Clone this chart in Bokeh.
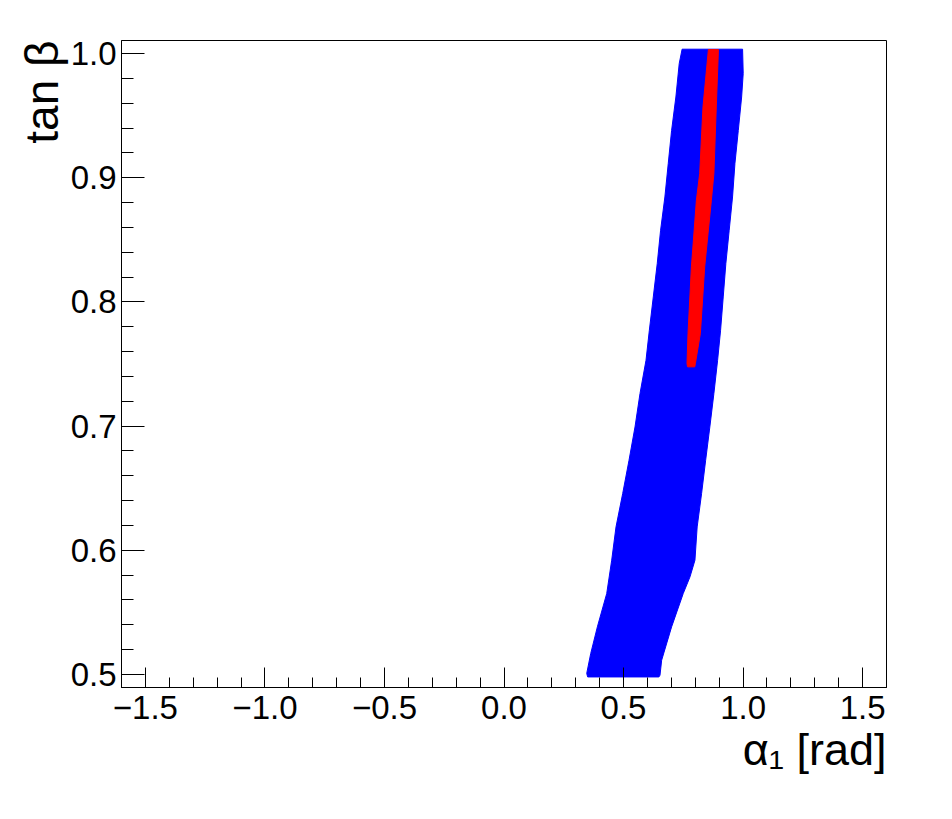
from bokeh.plotting import figure
from bokeh.models import SingleIntervalTicker, CustomJSTickFormatter, Title, Range1d
from bokeh.embed import file_html
from bokeh.resources import INLINE

# ---- data ----
# blue region: boundary of allowed scan points
blue_y_left = [1.0035, 0.992, 0.965, 0.938, 0.9114, 0.8845, 0.8577, 0.8309, 0.804, 0.7772,
               0.753, 0.7263, 0.6993, 0.6725, 0.6457, 0.6188, 0.592, 0.5652, 0.5383, 0.5169,
               0.5008, 0.498]
blue_x_left = [0.745, 0.733, 0.719, 0.701, 0.687, 0.673, 0.655, 0.641, 0.6245, 0.608,
               0.594, 0.569, 0.548, 0.523, 0.4965, 0.4685, 0.4505, 0.4297, 0.3905, 0.3628,
               0.346, 0.35]
blue_y_right = [1.0035, 0.984, 0.965, 0.938, 0.9114, 0.8845, 0.8577, 0.8309, 0.804, 0.7772,
                0.753, 0.7263, 0.6993, 0.6725, 0.6457, 0.6188, 0.592, 0.5786, 0.5652, 0.5383,
                0.5115, 0.4994, 0.498]
blue_x_right = [0.998, 1.0006, 0.994, 0.98, 0.966, 0.956, 0.942, 0.928, 0.917, 0.906,
                0.8935, 0.878, 0.861, 0.8435, 0.8265, 0.808, 0.7987, 0.778, 0.7497, 0.701,
                0.6595, 0.6525, 0.648]

# red region
red_y = [1.0032, 0.957, 0.9034, 0.8819, 0.8282, 0.7746, 0.7504, 0.7477]
red_x_left = [0.855, 0.8323, 0.8186, 0.8048, 0.7839, 0.7697, 0.7655, 0.768]
red_x_right = [0.897, 0.888, 0.878, 0.8675, 0.8395, 0.8215, 0.8006, 0.798]

x_label = "α₁ [rad]"
y_label = "tan β"

FONT = "Liberation Sans"

p = figure(width=930, height=800,
           x_range=Range1d(-1.6, 1.6), y_range=Range1d(0.4895, 1.0105),
           output_backend="svg", toolbar_location=None,
           min_border_left=121, min_border_right=44,
           min_border_top=40, min_border_bottom=113)

p.background_fill_color = "white"
p.border_fill_color = "white"
p.outline_line_color = "black"
p.outline_line_width = 1
p.xgrid.visible = False
p.ygrid.visible = False

# patches
p.patch(blue_x_left + blue_x_right[::-1], blue_y_left + blue_y_right[::-1],
        fill_color="#0000ff", line_color="#0000ff", line_width=1)
p.patch(red_x_left + red_x_right[::-1], red_y + red_y[::-1],
        fill_color="#ff0000", line_color="#ff0000", line_width=1)

fmt = CustomJSTickFormatter(code="return tick.toFixed(1).replace('-', '\u2212');")

xa = p.xaxis[0]
xa.ticker = SingleIntervalTicker(interval=0.5, num_minor_ticks=5)
ya = p.yaxis[0]
ya.ticker = SingleIntervalTicker(interval=0.1, num_minor_ticks=5)

for ax, maj, mnr, so in ((xa, 20, 10, 8), (ya, 23, 12, 5)):
    ax.formatter = fmt
    ax.major_tick_in = maj
    ax.major_tick_out = 0
    ax.minor_tick_in = mnr
    ax.minor_tick_out = 0
    ax.major_tick_line_color = "black"
    ax.minor_tick_line_color = "black"
    ax.axis_line_color = "black"
    ax.major_label_text_font = FONT
    ax.major_label_text_font_size = "33px"
    ax.major_label_text_color = "black"
    ax.major_label_standoff = so

p.add_layout(Title(text=x_label, align="right", text_font=FONT, text_font_size="45px",
                   text_font_style="normal", text_color="black", standoff=0), "below")
p.add_layout(Title(text=y_label, align="right", text_font=FONT, text_font_size="46px",
                   text_font_style="normal", text_color="black", standoff=0), "left")

open("out.html", "w").write(file_html(p, INLINE))
